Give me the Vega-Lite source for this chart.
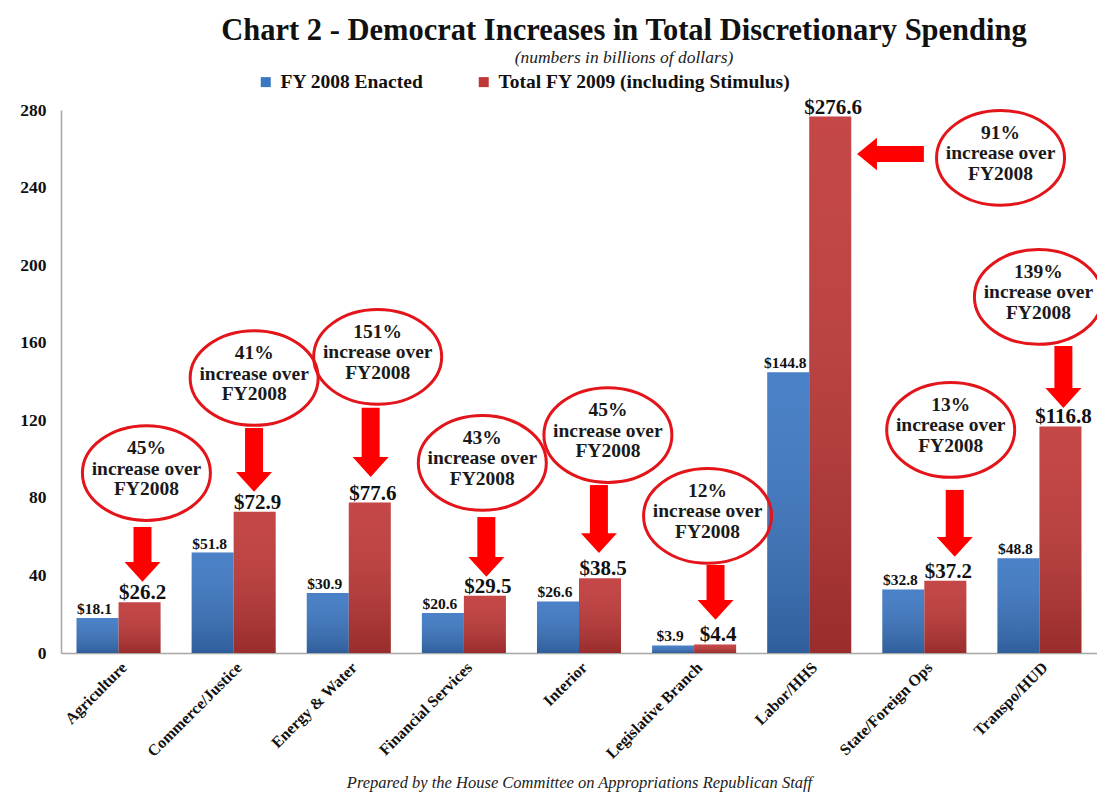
{
  "$schema": "https://vega.github.io/schema/vega-lite/v6.json",
  "width": 1036,
  "height": 543,
  "autosize": {"type": "none"},
  "padding": {"left": 61, "top": 110, "right": 0, "bottom": 147},
  "background": "white",
  "title": {
    "text": "Chart 2 - Democrat Increases in Total Discretionary Spending",
    "subtitle": "(numbers in billions of dollars)",
    "anchor": "middle",
    "dx": 45,
    "offset": 6,
    "font": "Liberation Serif",
    "fontSize": 30.5,
    "fontWeight": "bold",
    "color": "#111111",
    "subtitleFont": "Liberation Serif",
    "subtitleFontStyle": "italic",
    "subtitleFontSize": 17.5,
    "subtitleColor": "#222222",
    "subtitlePadding": 2
  },
  "config": {
    "view": {"stroke": null},
    "legend": {"labelLimit": 500},
    "axis": {"labelOverlap": false},
    "axisY": {
      "title": null, "labelOverlap": false,
      "labelFont": "Liberation Serif", "labelFontWeight": "bold", "labelFontSize": 17.5,
      "labelColor": "#111111", "labelPadding": 15, "ticks": false, "grid": false,
      "domainColor": "#a6a6a6", "domainWidth": 1.5
    }
  },
  "datasets": {
    "bars": [
      {"category": "Agriculture", "series": "FY 2008 Enacted", "value": 18.1},
      {"category": "Agriculture", "series": "Total FY 2009 (including Stimulus)", "value": 26.2},
      {"category": "Commerce/Justice", "series": "FY 2008 Enacted", "value": 51.8},
      {"category": "Commerce/Justice", "series": "Total FY 2009 (including Stimulus)", "value": 72.9},
      {"category": "Energy & Water", "series": "FY 2008 Enacted", "value": 30.9},
      {"category": "Energy & Water", "series": "Total FY 2009 (including Stimulus)", "value": 77.6},
      {"category": "Financial Services", "series": "FY 2008 Enacted", "value": 20.6},
      {"category": "Financial Services", "series": "Total FY 2009 (including Stimulus)", "value": 29.5},
      {"category": "Interior", "series": "FY 2008 Enacted", "value": 26.6},
      {"category": "Interior", "series": "Total FY 2009 (including Stimulus)", "value": 38.5},
      {"category": "Legislative Branch", "series": "FY 2008 Enacted", "value": 3.9},
      {"category": "Legislative Branch", "series": "Total FY 2009 (including Stimulus)", "value": 4.4},
      {"category": "Labor/HHS", "series": "FY 2008 Enacted", "value": 144.8},
      {"category": "Labor/HHS", "series": "Total FY 2009 (including Stimulus)", "value": 276.6},
      {"category": "State/Foreign Ops", "series": "FY 2008 Enacted", "value": 32.8},
      {"category": "State/Foreign Ops", "series": "Total FY 2009 (including Stimulus)", "value": 37.2},
      {"category": "Transpo/HUD", "series": "FY 2008 Enacted", "value": 48.8},
      {"category": "Transpo/HUD", "series": "Total FY 2009 (including Stimulus)", "value": 116.8}
    ],
    "notes": [
      {"pos": 0.742, "level": 92.8, "label": "45%\nincrease over\nFY2008"},
      {"pos": 1.678, "level": 141.8, "label": "41%\nincrease over\nFY2008"},
      {"pos": 2.751, "level": 152.7, "label": "151%\nincrease over\nFY2008"},
      {"pos": 3.66, "level": 98.0, "label": "43%\nincrease over\nFY2008"},
      {"pos": 4.751, "level": 112.4, "label": "45%\nincrease over\nFY2008"},
      {"pos": 5.617, "level": 70.7, "label": "12%\nincrease over\nFY2008"},
      {"pos": 8.162, "level": 255.3, "label": "91%\nincrease over\nFY2008"},
      {"pos": 7.729, "level": 115.0, "label": "13%\nincrease over\nFY2008"},
      {"pos": 8.491, "level": 183.6, "label": "139%\nincrease over\nFY2008"}
    ],
    "arrows": [
      {"pos": 0.708, "start": 65.0, "shaftEnd": 45.9, "head": 41.8},
      {"pos": 1.677, "start": 116.0, "shaftEnd": 92.3, "head": 88.2},
      {"pos": 2.69, "start": 126.4, "shaftEnd": 100.1, "head": 95.9},
      {"pos": 3.695, "start": 70.1, "shaftEnd": 48.5, "head": 44.4},
      {"pos": 4.673, "start": 86.6, "shaftEnd": 60.9, "head": 56.7},
      {"pos": 5.686, "start": 45.4, "shaftEnd": 26.3, "head": 22.2},
      {"pos": 7.764, "start": 84.1, "shaftEnd": 58.8, "head": 54.7},
      {"pos": 8.708, "start": 158.3, "shaftEnd": 135.6, "head": 131.5}
    ],
    "sideArrow": [
      {"level": 257.3, "start": 7.496, "shaftEnd": 7.071, "head": 7.002}
    ]
  },
  "resolve": {"scale": {"x": "independent"}, "axis": {"x": "independent", "y": "independent"}},
  "layer": [
    {
      "data": {"name": "bars"},
      "layer": [
        {
          "mark": {"type": "bar"},
          "encoding": {
            "x": {
              "field": "category", "type": "nominal", "sort": null,
              "scale": {"paddingInner": 0.27, "paddingOuter": 0.135},
              "axis": {
                "title": "Prepared by the House Committee on Appropriations  Republican  Staff",
                "titleFont": "Liberation Serif", "titleFontStyle": "italic", "titleFontWeight": "normal",
                "titleFontSize": 16.5, "titleColor": "#222222", "titleY": 134, "titleBaseline": "alphabetic",
                "labelAngle": -45, "labelFont": "Liberation Serif", "labelFontWeight": "bold",
                "labelFontSize": 16, "labelColor": "#111111", "labelPadding": 6,
                "ticks": false, "domainColor": "#a6a6a6", "domainWidth": 1.5
              }
            },
            "xOffset": {"field": "series", "sort": null, "scale": {"paddingInner": 0, "paddingOuter": 0}},
            "y": {
              "field": "value", "type": "quantitative",
              "scale": {"domain": [0, 280], "nice": false},
              "axis": {"orient": "left", "tickCount": 14, "labelOverlap": false, "values": [0, 20, 40, 60, 80, 100, 120, 140, 160, 180, 200, 220, 240, 260, 280]}
            },
            "color": {
              "field": "series", "type": "nominal", "sort": null,
              "scale": {"range": ["#3b76c2", "#c03737"]},
              "legend": {
                "title": null, "orient": "none", "legendX": 195, "legendY": -38,
                "direction": "horizontal", "symbolType": "square", "symbolSize": 100,
                "symbolStrokeWidth": 0, "labelFont": "Liberation Serif", "labelFontWeight": "bold",
                "labelFontSize": 19.5, "labelColor": "#111111", "columnPadding": 50, "labelOffset": 5
              }
            }
          }
        },
        {
          "mark": {
            "type": "bar",
            "fill": {"gradient": "linear", "x1": 0, "y1": 0, "x2": 0, "y2": 1,
              "stops": [{"offset": 0, "color": "rgba(255,255,255,0.08)"}, {"offset": 1, "color": "rgba(0,0,0,0.2)"}]}
          },
          "encoding": {
            "x": {"field": "category", "type": "nominal", "sort": null},
            "xOffset": {"field": "series", "sort": null},
            "y": {"field": "value", "type": "quantitative", "axis": {"orient": "left", "tickCount": 14, "labelOverlap": false, "values": [0, 20, 40, 60, 80, 100, 120, 140, 160, 180, 200, 220, 240, 260, 280]}}
          }
        },
        {
          "transform": [{"filter": "datum.series === 'FY 2008 Enacted'"}],
          "mark": {"type": "text", "baseline": "alphabetic", "dy": -4, "dx": -3, "font": "Liberation Serif", "fontWeight": "bold", "fontSize": 15.5, "color": "#111111"},
          "encoding": {
            "x": {"field": "category", "type": "nominal", "sort": null},
            "xOffset": {"field": "series", "sort": null},
            "y": {"field": "value", "type": "quantitative", "axis": {"orient": "left", "tickCount": 14, "labelOverlap": false, "values": [0, 20, 40, 60, 80, 100, 120, 140, 160, 180, 200, 220, 240, 260, 280]}},
            "text": {"field": "value", "type": "quantitative", "format": "$.1f"}
          }
        },
        {
          "transform": [{"filter": "datum.series !== 'FY 2008 Enacted'"}],
          "mark": {"type": "text", "baseline": "alphabetic", "dy": -3, "dx": 3, "font": "Liberation Serif", "fontWeight": "bold", "fontSize": 21, "color": "#111111"},
          "encoding": {
            "x": {"field": "category", "type": "nominal", "sort": null},
            "xOffset": {"field": "series", "sort": null},
            "y": {"field": "value", "type": "quantitative", "axis": {"orient": "left", "tickCount": 14, "labelOverlap": false, "values": [0, 20, 40, 60, 80, 100, 120, 140, 160, 180, 200, 220, 240, 260, 280]}},
            "text": {"field": "value", "type": "quantitative", "format": "$.1f"}
          }
        }
      ]
    },
    {
      "data": {"name": "arrows"},
      "mark": {"type": "rule", "color": "#ff0000", "strokeWidth": 18, "strokeCap": "butt"},
      "encoding": {
        "x": {"field": "pos", "type": "quantitative", "scale": {"domain": [0, 9], "nice": false, "zero": false}, "axis": null},
        "y": {"field": "start", "type": "quantitative", "scale": {"domain": [0, 280], "nice": false}, "axis": null},
        "y2": {"field": "shaftEnd"}
      }
    },
    {
      "data": {"name": "arrows"},
      "mark": {"type": "point", "shape": "M -1 -0.55 L 1 -0.55 L 0 0.55 Z", "size": 1296, "filled": true, "fill": "#ff0000", "strokeWidth": 0, "opacity": 1},
      "encoding": {
        "x": {"field": "pos", "type": "quantitative", "scale": {"domain": [0, 9], "nice": false, "zero": false}, "axis": null},
        "y": {"field": "head", "type": "quantitative", "scale": {"domain": [0, 280], "nice": false}, "axis": null}
      }
    },
    {
      "data": {"name": "sideArrow"},
      "mark": {"type": "rule", "color": "#ff0000", "strokeWidth": 16, "strokeCap": "butt"},
      "encoding": {
        "x": {"field": "start", "type": "quantitative", "scale": {"domain": [0, 9], "nice": false, "zero": false}, "axis": null},
        "x2": {"field": "shaftEnd"},
        "y": {"field": "level", "type": "quantitative", "scale": {"domain": [0, 280], "nice": false}, "axis": null}
      }
    },
    {
      "data": {"name": "sideArrow"},
      "mark": {"type": "point", "shape": "M 0.55 -0.9 L 0.55 0.9 L -0.55 0 Z", "size": 1296, "filled": true, "fill": "#ff0000", "strokeWidth": 0, "opacity": 1},
      "encoding": {
        "x": {"field": "head", "type": "quantitative", "scale": {"domain": [0, 9], "nice": false, "zero": false}, "axis": null},
        "y": {"field": "level", "type": "quantitative", "scale": {"domain": [0, 280], "nice": false}, "axis": null}
      }
    },
    {
      "data": {"name": "notes"},
      "mark": {"type": "point", "shape": "M -1 0 A 1 0.74 0 1 0 1 0 A 1 0.74 0 1 0 -1 0 Z", "size": 16384, "filled": false, "stroke": "#e3141a", "strokeWidth": 3, "opacity": 1},
      "encoding": {
        "x": {"field": "pos", "type": "quantitative", "scale": {"domain": [0, 9], "nice": false, "zero": false}, "axis": null},
        "y": {"field": "level", "type": "quantitative", "scale": {"domain": [0, 280], "nice": false}, "axis": null}
      }
    },
    {
      "data": {"name": "notes"},
      "mark": {"type": "text", "font": "Liberation Serif", "fontWeight": "bold", "fontSize": 19.5, "lineBreak": "\n", "lineHeight": 20.5, "baseline": "middle", "dy": -25, "color": "#1a1a1a"},
      "encoding": {
        "x": {"field": "pos", "type": "quantitative", "scale": {"domain": [0, 9], "nice": false, "zero": false}, "axis": null},
        "y": {"field": "level", "type": "quantitative", "scale": {"domain": [0, 280], "nice": false}, "axis": null},
        "text": {"field": "label"}
      }
    }
  ]
}
